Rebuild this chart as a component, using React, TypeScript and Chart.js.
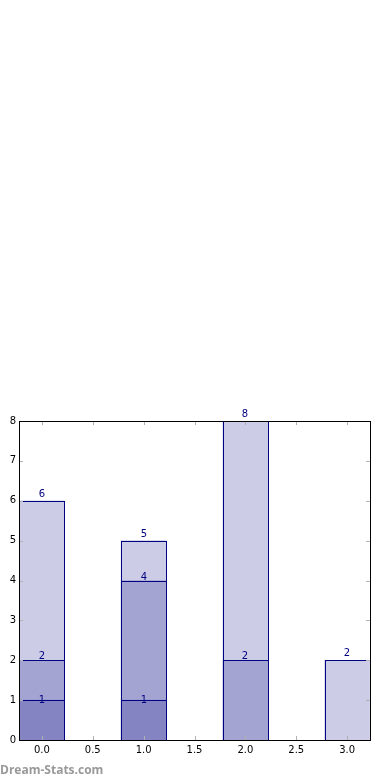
import React, { useEffect, useRef } from "react";
import { Chart, registerables } from "chart.js";

Chart.register(...registerables);

const positions = [0, 1, 2, 3];
const layer1 = [6, 5, 8, 2];
const layer2 = [2, 4, 2];
const layer3 = [1, 1];
const xTicks = [0, 0.5, 1, 1.5, 2, 2.5, 3];
const yTicks = [0, 1, 2, 3, 4, 5, 6, 7, 8];

const FILL = "rgba(0,0,128,0.2)";
const EDGE = "#000080";
const LABEL_GAP = [4, 1, -3];

function toPoints(vals: number[]) {
  return vals.map((v, i) => ({ x: positions[i], y: v }));
}

const edgesPlugin = {
  id: "barEdges",
  afterDatasetsDraw(chart: any) {
    const ctx = chart.ctx;
    ctx.save();
    ctx.strokeStyle = EDGE;
    ctx.lineWidth = 1;
    chart.data.datasets.forEach((ds: any, di: number) => {
      const meta = chart.getDatasetMeta(di);
      meta.data.forEach((el: any) => {
        const l = Math.round(el.x - el.width / 2) + 0.5;
        const r = Math.round(el.x + el.width / 2) + 0.5;
        const t = Math.round(el.y) + 0.5;
        const b = Math.round(el.base) + 0.5;
        ctx.strokeRect(l, t, r - l, b - t);
      });
    });
    ctx.fillStyle = EDGE;
    ctx.font = "10px 'DejaVu Sans'";
    ctx.textAlign = "center";
    ctx.textBaseline = "alphabetic";
    chart.data.datasets.forEach((ds: any, di: number) => {
      const meta = chart.getDatasetMeta(di);
      meta.data.forEach((el: any, i: number) => {
        ctx.fillText(String(ds.data[i].y), Math.round(el.x), Math.round(el.y) - LABEL_GAP[di]);
      });
    });
    ctx.restore();
  },
};

const innerTicks = {
  id: "innerTicks",
  afterDraw(chart: any) {
    const ctx = chart.ctx;
    const a = chart.chartArea;
    const xs = chart.scales.x;
    const ys = chart.scales.y;
    ctx.save();
    ctx.strokeStyle = "#b0b0b0";
    ctx.lineWidth = 1;
    ctx.beginPath();
    xTicks.forEach((t) => {
      const px = Math.round(xs.getPixelForValue(t)) + 0.5;
      ctx.moveTo(px, a.bottom);
      ctx.lineTo(px, a.bottom - 4);
      ctx.moveTo(px, a.top);
      ctx.lineTo(px, a.top + 4);
    });
    yTicks.forEach((t) => {
      const py = Math.round(ys.getPixelForValue(t)) + 0.5;
      ctx.moveTo(a.left, py);
      ctx.lineTo(a.left + 4, py);
      ctx.moveTo(a.right, py);
      ctx.lineTo(a.right - 4, py);
    });
    ctx.stroke();
    ctx.strokeStyle = "#000";
    ctx.strokeRect(Math.round(a.left) + 0.5, Math.round(a.top) + 0.5, Math.round(a.right - a.left), Math.round(a.bottom - a.top));
    ctx.restore();
  },
};

export default function App() {
  const ref = useRef<HTMLCanvasElement>(null);
  useEffect(() => {
    if (!ref.current) return;
    const mk = (vals: number[]) => ({
      data: toPoints(vals),
      backgroundColor: FILL,
      borderWidth: 0,
      grouped: false,
      barThickness: 45,
    });
    const chart = new Chart(ref.current, {
      type: "bar",
      data: { datasets: [mk(layer1), mk(layer2), mk(layer3)] as any },
      options: {
        animation: false,
        responsive: false,
        devicePixelRatio: 1,
        layout: { padding: { top: 421, right: 20, left: 0, bottom: 0 } },
        plugins: { legend: { display: false }, tooltip: { enabled: false } },
        scales: {
          x: {
            type: "linear",
            min: -0.225,
            max: 3.225,
            offset: false,
            afterBuildTicks: (s: any) => {
              s.ticks = xTicks.map((v) => ({ value: v }));
            },
            afterFit: (s: any) => {
              s.height = 40;
            },
            grid: { display: false, drawTicks: false },
            border: { display: false },
            ticks: {
              color: "#000",
              font: { family: "DejaVu Sans", size: 10 },
              padding: 4,
              maxRotation: 0,
              callback: (v: any) => Number(v).toFixed(1),
            },
          },
          y: {
            type: "linear",
            min: 0,
            max: 8,
            afterBuildTicks: (s: any) => {
              s.ticks = yTicks.map((v) => ({ value: v }));
            },
            afterFit: (s: any) => {
              s.width = 19;
            },
            grid: { display: false, drawTicks: false },
            border: { display: false },
            ticks: {
              color: "#000",
              font: { family: "DejaVu Sans", size: 10 },
              padding: 3,
            },
          },
        },
      },
      plugins: [edgesPlugin, innerTicks],
    });
    return () => chart.destroy();
  }, []);
  return (
    <div style={{ position: "fixed", left: 0, top: 0, width: 390, height: 780, background: "#fff" }}>
      <canvas ref={ref} width={390} height={780} style={{ position: "absolute", left: 0, top: 0 }} />
      <div
        style={{
          position: "absolute",
          left: 0,
          top: 761,
          fontFamily: "'Open Sans', sans-serif",
          fontWeight: 700,
          fontSize: 12,
          color: "#999",
        }}
      >
        Dream-Stats.com
      </div>
    </div>
  );
}
